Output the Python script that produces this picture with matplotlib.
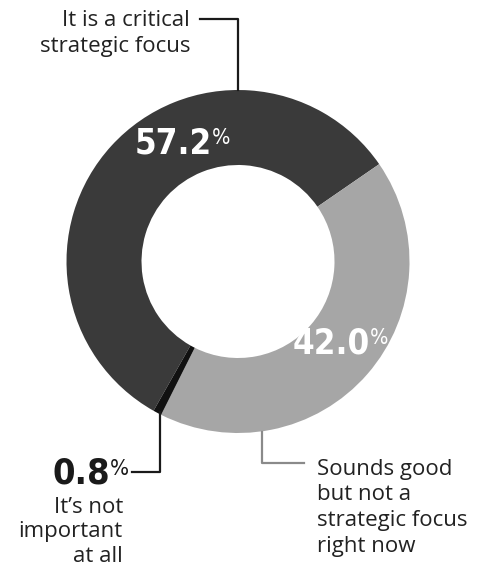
import matplotlib
matplotlib.use("Agg")
import matplotlib.pyplot as plt

# survey answers, in clockwise drawing order
answers = ["It is a critical\nstrategic focus",
           "Sounds good\nbut not a\nstrategic focus\nright now",
           "It\u2019s not\nimportant\nat all"]
shares = [57.2, 42.0, 0.8]
colors = ["#3a3a3a", "#a6a6a6", "#111111"]

W, H = 482, 567
CX, CY = 238, H - 261.5          # donut centre in pixel units (y up)
R_OUT, R_IN = 171.5, 96.5

LABEL_FONT = ["Open Sans", "DejaVu Sans"]
NUM_FONT = ["Liberation Sans Narrow", "DejaVu Sans"]


def pct(ax, x_right, y_base, value, size, color):
    t = ax.text(x_right, H - y_base, f"{value:.1f}", ha="right", va="baseline",
                family=NUM_FONT, weight="bold", stretch="condensed",
                fontsize=size, color=color)
    ax.annotate("%", xy=(1.0, 0.93), xycoords=t, ha="left", va="top",
                family=NUM_FONT, stretch="condensed", fontsize=size * 0.62, color=color)


fig = plt.figure(figsize=(W / 100, H / 100), dpi=100)
ax = fig.add_axes([0, 0, 1, 1])

# first wedge starts ~209.5 deg clockwise from 12 o'clock
ax.pie(shares, colors=colors, startangle=-119.5, counterclock=False,
       center=(CX, CY), radius=R_OUT, frame=True,
       wedgeprops=dict(width=R_OUT - R_IN, linewidth=0))
ax.set_xlim(0, W); ax.set_ylim(0, H)
ax.set_aspect("equal")
ax.axis("off")

# value labels on the ring
pct(ax, 212, 153, shares[0], 25, "white")
pct(ax, 370, 353, shares[1], 25, "white")
pct(ax, 110, 484, shares[2], 26, "#1a1a1a")

# category labels (anchored on the baseline of their last line)
kw = dict(va="baseline", family=LABEL_FONT, fontsize=16, color="#222222")
ax.text(190, H - 52, answers[0], ha="right", multialignment="right", linespacing=1.3, **kw)
ax.text(317, H - 552, answers[1], ha="left", linespacing=1.3, **kw)
ax.text(123, H - 562, answers[2], ha="right", multialignment="right", linespacing=1.22, **kw)

# leader lines
ax.plot([200, 238, 238], [H - 19, H - 19, H - 90], color="#1a1a1a", lw=1.6)
ax.plot([262, 262, 304], [H - 432, H - 463, H - 463], color="#8a8a8a", lw=1.6)
ax.plot([160, 160, 132], [H - 412, H - 472, H - 472], color="#1a1a1a", lw=1.6)

fig.savefig("out.png", dpi=100)
